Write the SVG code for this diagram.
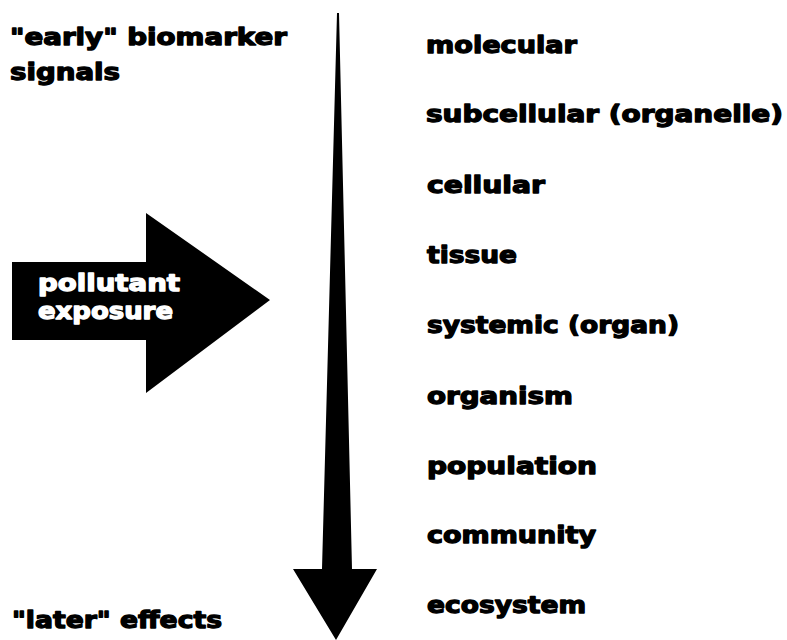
<svg xmlns="http://www.w3.org/2000/svg" width="787" height="640" viewBox="0 0 787 640">
<style>
text{font-family:"DejaVu Sans","Liberation Sans",sans-serif;font-weight:bold;font-size:23px;fill:#000;stroke:#000;stroke-width:1.3;stroke-linejoin:round}
.w{fill:#fff;stroke:#fff}
</style>
<rect width="787" height="640" fill="#fff"/>
<g id="connectors">
<polygon points="337,13 339,13 352,569 377,569 336,640 293,569 322,569" fill="#000"/>
</g>
<g id="pollutant-exposure">
<polygon points="12,262 146,262 146,213 270,300 146,393 146,340 12,340" fill="#000"/>
<text class="w" x="38" y="291" textLength="142" lengthAdjust="spacingAndGlyphs">pollutant</text>
<text class="w" x="38" y="319" textLength="135" lengthAdjust="spacingAndGlyphs">exposure</text>
</g>
<g id="early">
<text x="10" y="45" textLength="277" lengthAdjust="spacingAndGlyphs">"early" biomarker</text>
<text x="10" y="80" textLength="110" lengthAdjust="spacingAndGlyphs">signals</text>
</g>
<g id="later">
<text x="12" y="628" textLength="210" lengthAdjust="spacingAndGlyphs">"later" effects</text>
</g>
<g id="molecular"><text x="426" y="53" textLength="151" lengthAdjust="spacingAndGlyphs">molecular</text></g>
<g id="subcellular"><text x="426" y="122" textLength="357" lengthAdjust="spacingAndGlyphs">subcellular (organelle)</text></g>
<g id="cellular"><text x="427" y="193" textLength="118" lengthAdjust="spacingAndGlyphs">cellular</text></g>
<g id="tissue"><text x="427" y="263" textLength="90" lengthAdjust="spacingAndGlyphs">tissue</text></g>
<g id="systemic"><text x="427" y="333" textLength="252" lengthAdjust="spacingAndGlyphs">systemic (organ)</text></g>
<g id="organism"><text x="427" y="404" textLength="146" lengthAdjust="spacingAndGlyphs">organism</text></g>
<g id="population"><text x="427" y="474" textLength="170" lengthAdjust="spacingAndGlyphs">population</text></g>
<g id="community"><text x="427" y="543" textLength="169" lengthAdjust="spacingAndGlyphs">community</text></g>
<g id="ecosystem"><text x="427" y="613" textLength="159" lengthAdjust="spacingAndGlyphs">ecosystem</text></g>
</svg>
